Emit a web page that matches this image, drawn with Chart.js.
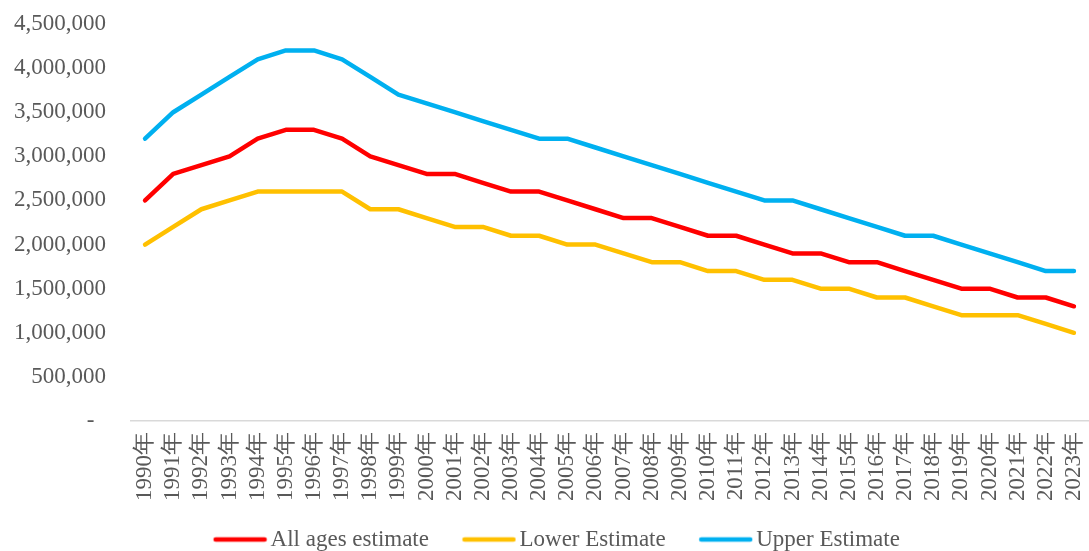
<!DOCTYPE html>
<html>
<head>
<meta charset="utf-8">
<title>Estimates 1990-2023</title>
<script src="https://cdn.jsdelivr.net/npm/chart.js"></script>
<style>
    body { margin: 0; background: #fff; }
    #wrap { width: 1089px; height: 551px; }
</style>
</head>
<body>
<div id="wrap"><canvas id="estimateChart"></canvas></div>
<script>
// Data
const years = ["1990年","1991年","1992年","1993年","1994年","1995年","1996年","1997年","1998年","1999年",
    "2000年","2001年","2002年","2003年","2004年","2005年","2006年","2007年","2008年","2009年",
    "2010年","2011年","2012年","2013年","2014年","2015年","2016年","2017年","2018年","2019年",
    "2020年","2021年","2022年","2023年"];

const allAges = [2500000,2800000,2900000,3000000,3200000,3300000,3300000,3200000,3000000,2900000,
    2800000,2800000,2700000,2600000,2600000,2500000,2400000,2300000,2300000,2200000,
    2100000,2100000,2000000,1900000,1900000,1800000,1800000,1700000,1600000,1500000,
    1500000,1400000,1400000,1300000];

const lowerEst = [2000000,2200000,2400000,2500000,2600000,2600000,2600000,2600000,2400000,2400000,
    2300000,2200000,2200000,2100000,2100000,2000000,2000000,1900000,1800000,1800000,
    1700000,1700000,1600000,1600000,1500000,1500000,1400000,1400000,1300000,1200000,
    1200000,1200000,1100000,1000000];

const upperEst = [3200000,3500000,3700000,3900000,4100000,4200000,4200000,4100000,3900000,3700000,
    3600000,3500000,3400000,3300000,3200000,3200000,3100000,3000000,2900000,2800000,
    2700000,2600000,2500000,2500000,2400000,2300000,2200000,2100000,2100000,2000000,
    1900000,1800000,1700000,1700000];

const yTicks = [0,500000,1000000,1500000,2000000,2500000,3000000,3500000,4000000,4500000];

const textColor = "#595959";
const fontFamily = "'Liberation Serif', 'Times New Roman', serif";
const LEGEND_BOX = 40;

function lineSet(label, data, color) {
    return {
        label: label,
        data: data,
        borderColor: color,
        backgroundColor: color,
        borderWidth: 4.5,
        borderCapStyle: "round",
        borderJoinStyle: "round",
        pointRadius: 0,
        pointHoverRadius: 0,
        tension: 0,
        fill: false
    };
}

// legend swatch: a short thick line drawn close to the label text
function legendSwatch(color) {
    const c = document.createElement("canvas");
    c.width = LEGEND_BOX + 17;
    c.height = 10;
    const g = c.getContext("2d");
    g.strokeStyle = color;
    g.lineWidth = 4.5;
    g.lineCap = "round";
    g.beginPath();
    g.moveTo(c.width - 52, 5);
    g.lineTo(c.width - 3, 5);
    g.stroke();
    return c;
}

// drop the automatic padding the scales ask for, so layout.padding decides
function noScalePadding(axis) {
    axis.paddingTop = 0;
    axis.paddingBottom = 0;
    axis.paddingLeft = 0;
    axis.paddingRight = 0;
}

// nudge the legend row a little to the right, like the original
const legendShift = {
    id: "legendShift",
    afterLayout(chart) {
        if (chart.legend) {
            chart.legend.left += 21;
            chart.legend.right += 21;
        }
    }
};

const ctx = document.getElementById("estimateChart").getContext("2d");
new Chart(ctx, {
    type: "line",
    data: {
        labels: years,
        datasets: [
            lineSet("All ages estimate", allAges, "#FF0000"),
            lineSet("Lower Estimate", lowerEst, "#FFC000"),
            lineSet("Upper Estimate", upperEst, "#00B0F0")
        ]
    },
    plugins: [legendShift],
    options: {
        responsive: true,
        maintainAspectRatio: false,
        animation: false,
        layout: { padding: { top: 24, right: 1, left: -11, bottom: -10 } },
        plugins: {
            tooltip: { enabled: false },
            legend: {
                position: "bottom",
                labels: {
                    usePointStyle: true,
                    pointStyleWidth: LEGEND_BOX,
                    padding: 16,
                    color: textColor,
                    font: { family: fontFamily, size: 23 },
                    generateLabels: function (chart) {
                        const items = Chart.defaults.plugins.legend.labels.generateLabels(chart);
                        items.forEach((it, i) => {
                            it.pointStyle = legendSwatch(chart.data.datasets[i].borderColor);
                            // extra spaces widen the gap between legend items
                            if (i < items.length - 1) it.text = it.text + "    ";
                        });
                        return items;
                    }
                }
            }
        },
        scales: {
            x: {
                offset: true,
                grid: { display: false, drawTicks: false },
                border: { display: true, color: "#d9d9d9", width: 1.5 },
                afterFit: noScalePadding,
                ticks: {
                    autoSkip: false,
                    maxRotation: 90,
                    minRotation: 90,
                    padding: 11,
                    color: textColor,
                    font: { family: fontFamily, size: 23 }
                }
            },
            y: {
                min: 0,
                max: 4500000,
                grid: { display: false, drawTicks: false },
                border: { display: false },
                afterFit: noScalePadding,
                afterBuildTicks: function (axis) {
                    axis.ticks = yTicks.map(v => ({ value: v }));
                },
                ticks: {
                    padding: 25,
                    color: textColor,
                    font: { family: fontFamily, size: 23 },
                    callback: function (value) {
                        if (value === 0) return "-  ";
                        return value.toLocaleString("en-US");
                    }
                }
            }
        }
    }
});
</script>
</body>
</html>
